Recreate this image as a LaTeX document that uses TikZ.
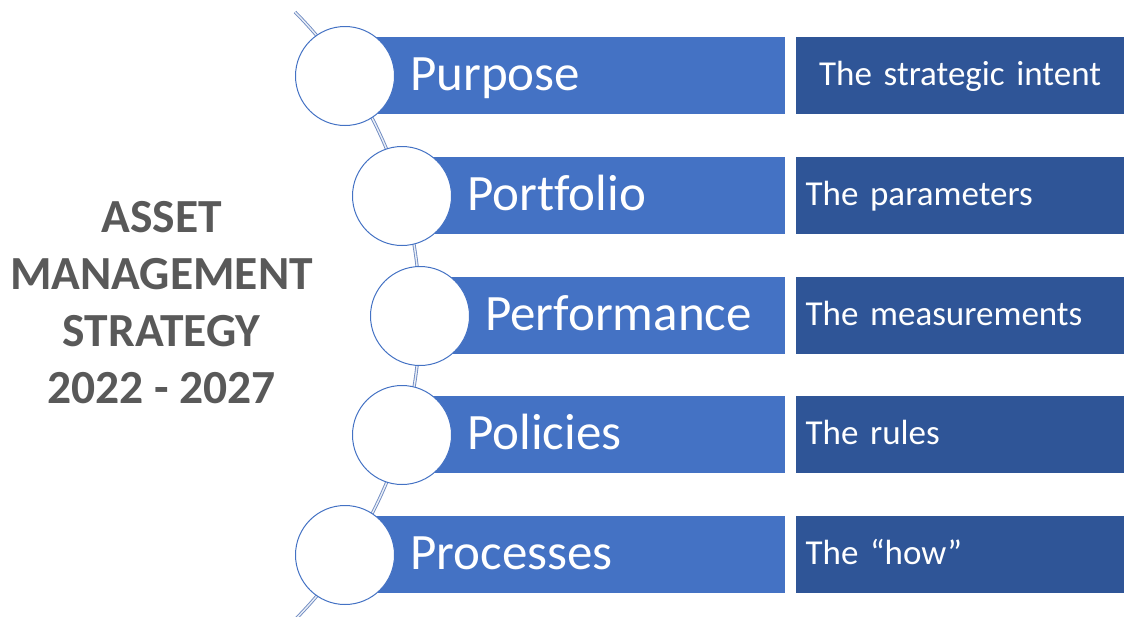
\documentclass[tikz,border=0pt]{standalone}
\usepackage{fontspec}
\setmainfont[Ligatures=NoCommon]{Carlito}
\usetikzlibrary{positioning}

\definecolor{barblue}{HTML}{4472C4}
\definecolor{boxblue}{HTML}{2F5597}
\definecolor{titlegrey}{HTML}{595959}
\definecolor{spineblue}{HTML}{6F8BC2}

\begin{document}
\begin{tikzpicture}[x=1pt, y=-1pt,
        bar/.style={rectangle, fill=barblue, minimum height=77pt, inner sep=0pt, anchor=west},
        ring/.style={circle, draw=barblue, fill=white, line width=1pt, minimum size=99pt, inner sep=0pt},
        bartext/.style={text=white, font=\fontsize{51}{60}\selectfont, inner sep=0pt, text height=37pt, text depth=9pt},
        note/.style={rectangle, fill=boxblue, minimum width=329pt, minimum height=77pt, text=white, font=\fontsize{35}{42}\selectfont, inner xsep=10pt, inner ysep=0pt, text width=309pt, text height=26pt, text depth=6pt, align=left},
        spine/.style={draw=spineblue, double=white!85!spineblue, line width=0.9pt, double distance=1.4pt},
    ]
    \useasboundingbox (0,0) rectangle (1124,616);

    % curved spine behind the circles
    \coordinate (spineTop) at (295,12);
    \draw[spine] (spineTop) arc[start angle=-44.7, end angle=44.6, radius=432];

    % blue bars
    \node[bar, minimum width=440pt] (purposeBar) at (345,75) {};
    \node[bar, minimum width=383pt] (portfolioBar) at (402,195) {};
    \node[bar, minimum width=365pt] (performanceBar) at (420,315) {};
    \node[bar, minimum width=383pt] (policiesBar) at (402,434.5) {};
    \node[bar, minimum width=440pt] (processesBar) at (345,554) {};

    % circles on the spine
    \node[ring] (purposeRing) at (345,76) {};
    \node[ring] (portfolioRing) at (402,196) {};
    \node[ring] (performanceRing) at (420,316) {};
    \node[ring] (policiesRing) at (402,435) {};
    \node[ring] (processesRing) at (345,555) {};

    \node[bartext, right=15pt of purposeRing] (purpose) {Purpose};
    \node[bartext, right=15pt of portfolioRing] (portfolio) {Portfolio};
    \node[bartext, right=15pt of performanceRing] (performance) {Performance};
    \node[bartext, right=15pt of policiesRing] (policies) {Policies};
    \node[bartext, right=15pt of processesRing] (processes) {Processes};

    % dark boxes on the right
    \node[note, align=center, right=10pt of purposeBar] (intent) {The strategic intent};
    \node[note, right=10pt of portfolioBar] (parameters) {The parameters};
    \node[note, right=10pt of performanceBar] (measurements) {The measurements};
    \node[note, right=10pt of policiesBar] (rules) {The rules};
    \node[note, right=10pt of processesBar] (how) {The “how”};

    \node[text=titlegrey, font=\bfseries\fontsize{47.5}{57}\selectfont, align=center, inner sep=0pt] (title) at (161.5,303) {ASSET\\MANAGEMENT\\STRATEGY\\2022 - 2027};
\end{tikzpicture}
\end{document}
